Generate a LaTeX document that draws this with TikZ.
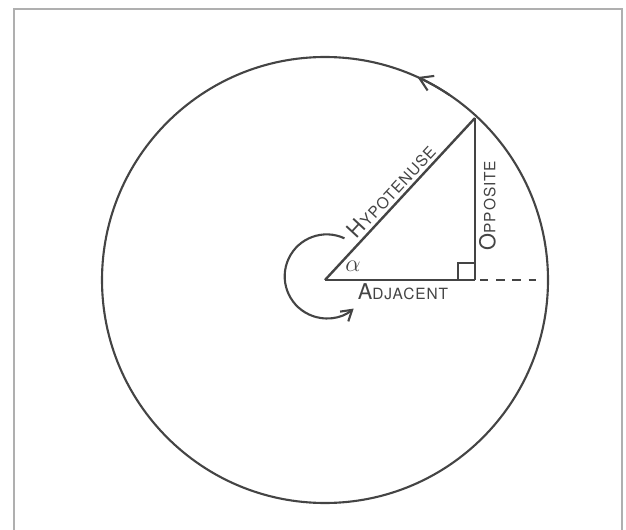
\documentclass[tikz,border=0pt]{standalone}
\usepackage{fontspec}
\newfontfamily\labelfont[LetterSpace=6]{TeX Gyre Heros}
\definecolor{inkgray}{RGB}{68, 68, 68}
\definecolor{framegray}{RGB}{175, 175, 175}
\usetikzlibrary{arrows.meta, calc}
\newcommand{\capbig}[1]{{\fontsize{15.5}{15.5}\selectfont #1}}
\newcommand{\capsmall}[1]{{\fontsize{11}{11}\selectfont #1}}
\tikzset{
	ink/.style={draw=inkgray, line width=1.5pt},
	side/.style={draw=inkgray, line width=1.7pt, line join=miter},
	label/.style={font=\labelfont, text=inkgray, inner sep=2pt},
	extend/.style={draw=inkgray, line width=1.6pt, dash pattern=on 6pt off 5.5pt},
	barb/.style={-{Straight Barb[length=3.2mm, width=4mm]}},
	smallbarb/.style={-{Straight Barb[length=2.6mm, width=3.2mm]}},
}

\begin{document}
\begin{tikzpicture}[x=0.25mm, y=-0.25mm]
		\useasboundingbox (0,0) rectangle (626,530);
		% frame, open at the bottom
		\draw[framegray, line width=1.2pt] (14,540) -- (14,9) -- (622,9) -- (622,540);
		\coordinate (O) at (325,280);
		\coordinate (A) at (475,280);
		\coordinate (B) at (475,118);
		\coordinate (E) at (536,280);
		% circle and its direction (y runs down, so angles are negative)
		\draw[ink] (O) circle (223);
		\draw[ink, barb] (O) ++(-56:223) arc (-56:-65.5:223);
		% triangle
		\draw[side] (O) -- node[label, below, pos=0.52] {\capbig{A}\capsmall{DJACENT}} (A);
		\draw[side] (A) -- node[label, sloped, below, pos=0.46] {\capbig{O}\capsmall{PPOSITE}} (B);
		\draw[side] (O) -- node[label, sloped, above, pos=0.5, inner sep=2pt] {\capbig{H}\capsmall{YPOTENUSE}} (B);
		\draw[ink, line width=1.3pt] ($(A)+(-17,0)$) |- ($(A)+(0,-17)$);
		\draw[extend] ($(A)+(5,0)$) -- (E);
		% angle
		\node[font=\fontsize{19}{19}\selectfont, text=inkgray] (alpha) at (353,266) {$\alpha$};
		\draw[ink, smallbarb] (O) ++(-65:46) arc (-65:-310:42);
	\end{tikzpicture}
\end{document}
